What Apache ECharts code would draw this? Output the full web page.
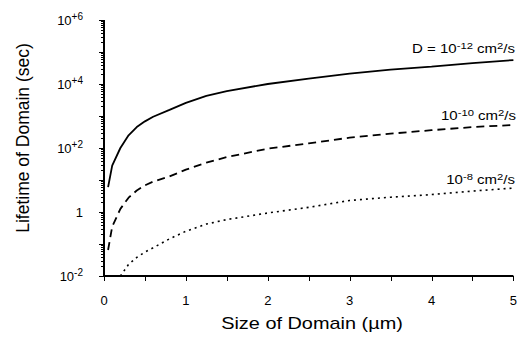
<!DOCTYPE html>
<html>
<head>
<meta charset="utf-8">
<script src="https://cdn.jsdelivr.net/npm/echarts@6/dist/echarts.min.js"></script>
<style>
  html, body { margin: 0; padding: 0; background: #fff; }
  #chart { width: 520px; height: 338px; }
</style>
</head>
<body>
<div id="chart"></div>
<script>
// domain size (um)
const sizes = [0.05, 0.1, 0.2, 0.3, 0.4, 0.5, 0.6, 0.8, 1.0, 1.25, 1.5, 2, 2.5, 3, 3.5, 4, 4.5, 5];
// lifetime (sec)
const lifeD12 = [6, 28, 100, 250, 450, 680, 950, 1550, 2570, 4270, 6000, 10000, 14800, 21000, 28000, 35000, 45000, 56000];
const lifeD10 = [0.065, 0.35, 1.25, 2.8, 4.7, 6.8, 8.9, 13, 21, 35, 52, 95, 140, 210, 280, 360, 450, 525];
const lifeD8 = [null, null, 0.01, 0.023, 0.038, 0.056, 0.076, 0.145, 0.25, 0.42, 0.58, 0.93, 1.4, 2.3, 2.9, 3.5, 4.5, 5.6];

const yMajorText = { "-2": "10|-2", "0": "1", "2": "10|+2", "4": "10|+4", "6": "10|+6" };
const xTicks = [0, 0.5, 1, 1.5, 2, 2.5, 3, 3.5, 4, 4.5, 5];

const font = "'Liberation Sans', Arial, Helvetica, sans-serif";

// log ticks: decades and 2..9 in between
const yDecades = [];
const yMinor = [];
for (let e = -2; e <= 6; e++) {
  yDecades.push(Math.pow(10, e));
  if (e < 6) for (let m = 2; m <= 9; m++) yMinor.push(m * Math.pow(10, e));
}

const pair = (ys) => sizes.map((x, i) => [x, ys[i]]);

const chart = echarts.init(document.getElementById("chart"), null, { renderer: "svg" });

const supRich = {
  b: { fontSize: 13, fontFamily: font, color: "#000" },
  s: { fontSize: 10, fontFamily: font, color: "#000", padding: [0, 0, 7, 0] },
};
const labelRich = {
  b: { fontSize: 12, fontFamily: font, fill: "#000" },
  s: { fontSize: 9, fontFamily: font, fill: "#000", padding: [0, 0, 6, 0] },
};

const curveLabel = (text, x, y) => ({
  type: "text",
  x: x,
  y: y,
  scaleX: 1.25,
  style: { text: text, rich: labelRich, align: "right", verticalAlign: "middle" },
});

const texts = [
  {
    type: "text",
    x: 23,
    y: 138,
    rotation: Math.PI / 2,
    style: {
      text: "Lifetime of Domain (sec)",
      fontSize: 17.5,
      fontFamily: font,
      fill: "#000",
      align: "center",
      verticalAlign: "middle",
    },
  },
  {
    type: "text",
    x: 312,
    y: 323,
    scaleX: 1.17,
    style: {
      text: "Size of Domain (\u00b5m)",
      fontSize: 17,
      fontFamily: font,
      fill: "#000",
      align: "center",
      verticalAlign: "middle",
    },
  },
  curveLabel("{b|D = 10}{s|-12}{b| cm}{s|2}{b|/s}", 515, 49),
  curveLabel("{b|10}{s|-10}{b| cm}{s|2}{b|/s}", 516, 116),
  curveLabel("{b|10}{s|-8}{b| cm}{s|2}{b|/s}", 515, 180),
];

const option = {
  animation: false,
  grid: { left: 104, right: 3, top: 20, bottom: 62 },
  xAxis: {
    type: "value",
    min: 0,
    max: 5,
    interval: 0.5,
    axisLine: { show: false },
    axisTick: { show: false },
    axisLabel: {
      margin: 18,
      fontSize: 13,
      fontFamily: font,
      color: "#000",
      formatter: (v) => (Number.isInteger(v) ? String(v) : ""),
    },
    splitLine: { show: false },
  },
  yAxis: {
    type: "log",
    min: 0.01,
    max: 1e6,
    axisLine: { show: false },
    axisTick: { show: false },
    axisLabel: {
      margin: 21,
      formatter: (v) => {
        const t = yMajorText[String(Math.round(Math.log10(v)))];
        if (!t) return "";
        const p = t.split("|");
        return p.length > 1 ? "{b|" + p[0] + "}{s|" + p[1] + "}" : "{b|" + p[0] + "}";
      },
      rich: supRich,
    },
    splitLine: { show: false },
  },
  series: [
    {
      name: "D = 1e-12",
      type: "line",
      data: pair(lifeD12),
      showSymbol: false,
      lineStyle: { color: "#000", width: 1.8, type: "solid" },
    },
    {
      name: "D = 1e-10",
      type: "line",
      data: pair(lifeD10),
      showSymbol: false,
      lineStyle: { color: "#000", width: 1.8, type: [8, 5] },
    },
    {
      name: "D = 1e-8",
      type: "line",
      data: pair(lifeD8),
      showSymbol: false,
      lineStyle: { color: "#000", width: 1.6, type: [2, 4] },
    },
  ],
  graphic: texts,
};

chart.setOption(option);

// axis lines and ticks, placed through the chart's own scales
const px = (x, y) => chart.convertToPixel({ gridIndex: 0 }, [x, y]);
const seg = (x1, y1, x2, y2, w) => ({
  type: "line",
  shape: { x1: x1, y1: y1, x2: x2, y2: y2 },
  style: { stroke: "#000", lineWidth: w, lineDash: null, opacity: 1 },
  z: 10,
});
const origin = px(0, 0.01);
const topLeft = px(0, 1e6);
const right = px(5, 0.01);
const axisMarks = [
  seg(origin[0], topLeft[1], origin[0], origin[1] + 1, 2),
  seg(origin[0] - 1, origin[1], right[0], origin[1], 2),
];
xTicks.forEach((v) => {
  const x = Math.round(px(v, 0.01)[0]) + 0.5;
  axisMarks.push(seg(x, origin[1], x, origin[1] + 5, 1));
});
yDecades.forEach((v) => {
  const y = Math.round(px(0, v)[1]) + 0.5;
  axisMarks.push(seg(origin[0] - 5, y, origin[0], y, 1));
});
yMinor.forEach((v) => {
  const y = Math.round(px(0, v)[1]) + 0.5;
  axisMarks.push(seg(origin[0] - 3, y, origin[0], y, 1));
});

chart.setOption({ graphic: texts.concat(axisMarks) });
</script>
</body>
</html>
